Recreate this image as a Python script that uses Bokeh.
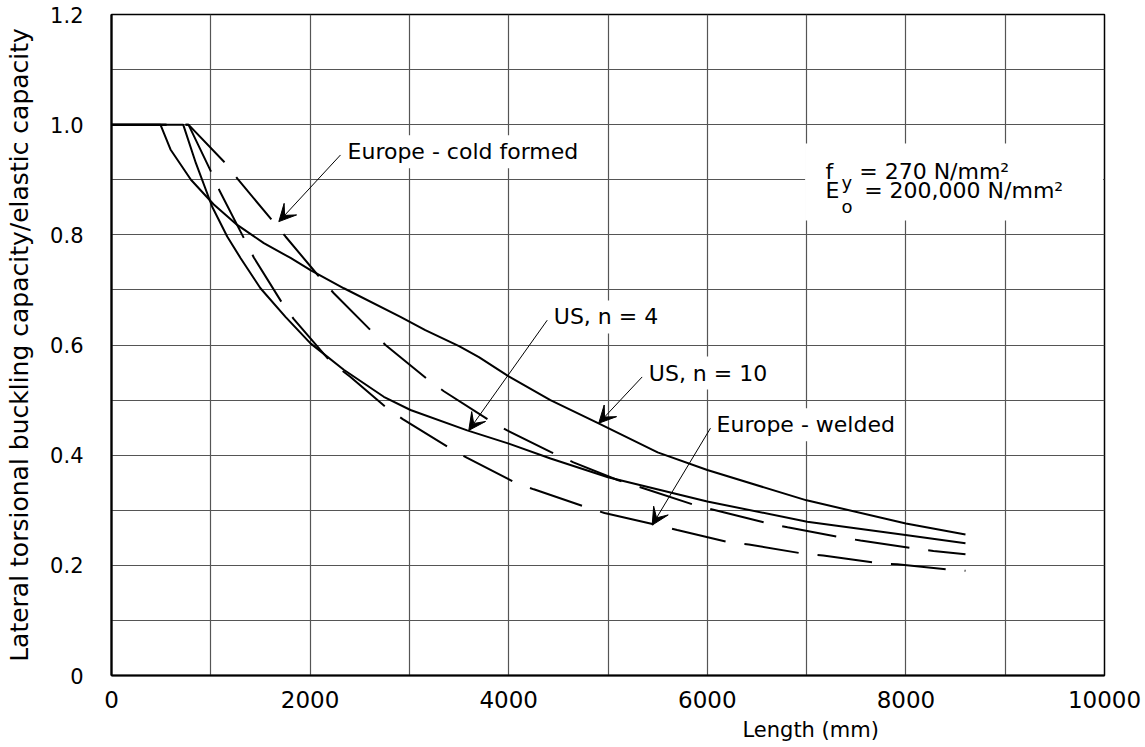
from bokeh.plotting import figure
from bokeh.models import FixedTicker, Label, Arrow, VeeHead, BoxAnnotation, Range1d, Title
from bokeh.embed import file_html
from bokeh.resources import INLINE

# ---------------- data ----------------
x_ticks = [0, 2000, 4000, 6000, 8000, 10000]
x_grid = [0, 1000, 2000, 3000, 4000, 5000, 6000, 7000, 8000, 9000, 10000]
y_ticks = [0, 0.2, 0.4, 0.6, 0.8, 1.0, 1.2]
y_tick_labels = ["0", "0.2", "0.4", "0.6", "0.8", "1.0", "1.2"]
y_grid = [0, 0.1, 0.2, 0.3, 0.4, 0.5, 0.6, 0.7, 0.8, 0.9, 1.0, 1.1, 1.2]

us_n10_x = [0, 493, 594, 800, 1030, 1266, 1534, 1803, 2004, 2340, 2910, 3160, 3500,
            3700, 4000, 4420, 4900, 5500, 6000, 7000, 8000, 8600]
us_n10_y = [1.0, 1.0, 0.955, 0.9, 0.855, 0.818, 0.785, 0.758, 0.736, 0.703, 0.651, 0.627,
            0.598, 0.578, 0.543, 0.5, 0.458, 0.405, 0.373, 0.318, 0.276, 0.256]

us_n4_x = [0, 722, 850, 1014, 1165, 1299, 1500, 1752, 2004, 2339, 2742, 3011, 3582, 4001,
           4421, 5000, 6000, 7006, 7996, 8600]
us_n4_y = [1.0, 1.0, 0.93, 0.851, 0.797, 0.758, 0.703, 0.651, 0.603, 0.555, 0.506, 0.482,
           0.445, 0.421, 0.394, 0.36, 0.316, 0.279, 0.255, 0.24]

eu_cold_x = [0, 775, 1148, 1272, 1628, 1752, 2105, 2239, 2625, 2759, 3195, 3347, 3817,
             3985, 4421, 4652, 5096, 5357, 5881, 6082, 6616, 6808, 7341, 7543, 8077,
             8278, 8600]
eu_cold_y = [1.0, 1.0, 0.93, 0.901, 0.824, 0.797, 0.721, 0.694, 0.624, 0.6, 0.536, 0.516,
             0.462, 0.445, 0.406, 0.387, 0.355, 0.34, 0.309, 0.3, 0.276, 0.269, 0.251,
             0.245, 0.231, 0.226, 0.22]

eu_weld_x = [0, 775, 1007, 1091, 1333, 1433, 1719, 1836, 2205, 2407, 2776, 2937, 3407,
             3582, 4068, 4253, 4773, 4965, 5495, 5697, 6217, 6418, 6972, 7167, 7717,
             7912, 8456, 8600]
eu_weld_y = [1.0, 1.0, 0.913, 0.879, 0.794, 0.759, 0.676, 0.647, 0.57, 0.542, 0.485,
             0.465, 0.413, 0.395, 0.35, 0.338, 0.306, 0.295, 0.273, 0.264, 0.242, 0.238,
             0.221, 0.218, 0.204, 0.202, 0.192, 0.19]

FONT = "DejaVu Sans"

p = figure(width=1145, height=747, output_backend="svg", toolbar_location=None,
           x_range=Range1d(0, 10000), y_range=Range1d(0, 1.2),
           min_border_left=111, min_border_right=41, min_border_top=14,
           min_border_bottom=72)

p.background_fill_color = "white"
p.border_fill_color = "white"
p.outline_line_color = "black"
p.outline_line_width = 1.5

# grid
p.xgrid.ticker = FixedTicker(ticks=x_grid)
p.ygrid.ticker = FixedTicker(ticks=y_grid)
for g in (p.xgrid, p.ygrid):
    g.grid_line_color = "#555555"
    g.grid_line_width = 1.2

# axes
p.xaxis.ticker = FixedTicker(ticks=x_ticks)
p.yaxis.ticker = FixedTicker(ticks=y_ticks)
p.yaxis.major_label_overrides = {t: l for t, l in zip(y_ticks, y_tick_labels)}
p.xaxis.major_label_overrides = {t: str(t) for t in x_ticks}
for ax in (p.xaxis, p.yaxis):
    ax.axis_line_color = "black"
    ax.axis_line_width = 2.2
    ax.major_tick_line_color = None
    ax.minor_tick_line_color = None
    ax.major_label_text_font = FONT
    ax.major_label_text_color = "black"
    ax.axis_label_text_font = FONT
    ax.axis_label_text_font_style = "normal"
    ax.axis_label_text_color = "black"
p.xaxis.major_label_text_font_size = "23px"
p.xaxis.major_label_standoff = 9
p.yaxis.major_label_text_font_size = "21px"
p.yaxis.major_label_standoff = 22
p.yaxis.axis_label = "Lateral torsional buckling capacity/elastic capacity"
p.yaxis.axis_label_text_font_size = "25px"
p.yaxis.axis_label_standoff = 13

# x axis title, placed right of centre as in the original
p.add_layout(Title(text="Length (mm)", align="left", offset=631, text_font=FONT,
                   text_font_size="21px", text_font_style="normal",
                   text_color="black", standoff=10), "below")

# curves
p.line(us_n10_x, us_n10_y, line_color="black", line_width=2)
p.line(us_n4_x, us_n4_y, line_color="black", line_width=2)
p.line(eu_cold_x, eu_cold_y, line_color="black", line_width=2, line_dash="55 19")
p.line(eu_weld_x, eu_weld_y, line_color="black", line_width=2, line_dash="55 19")

# white box behind material properties
p.add_layout(BoxAnnotation(left=6985, right=9985, bottom=0.826, top=0.966,
                           fill_color="white", fill_alpha=1.0, line_color=None))

def note(text, x, y, size="22px", bg=True, align="left"):
    lab = Label(x=x, y=y, text=text, text_font=FONT, text_font_size=size,
                text_color="black", text_align=align, text_baseline="middle")
    if bg:
        lab.background_fill_color = "white"
        lab.background_fill_alpha = 1.0
        lab.padding = 4
        lab.x_offset = -4
    p.add_layout(lab)

def arrow(xs, ys, xe, ye):
    p.add_layout(Arrow(end=VeeHead(size=17, fill_color="black", line_color="black",
                                   line_width=1),
                       x_start=xs, y_start=ys, x_end=xe, y_end=ye,
                       line_color="black", line_width=1))

arrow(2306, 0.945, 1685, 0.824)
arrow(4388, 0.645, 3598, 0.445)
arrow(5344, 0.542, 4907, 0.458)
arrow(6032, 0.449, 5445, 0.273)

note("Europe - cold formed", 2377, 0.951)
note("US, n = 4", 4454, 0.651)
note("US, n = 10", 5411, 0.549)
note("Europe - welded", 6093, 0.455)

# material properties
note("f", 7190, 0.915, size="22px", bg=False)
note("y", 7352, 0.895, size="18px", bg=False)
note("= 270 N/mm²", 7530, 0.915, size="22px", bg=False)
note("E", 7190, 0.881, size="22px", bg=False)
note("o", 7352, 0.851, size="18px", bg=False)
note("= 200,000 N/mm²", 7580, 0.881, size="22px", bg=False)

open("out.html", "w").write(file_html(p, INLINE))
